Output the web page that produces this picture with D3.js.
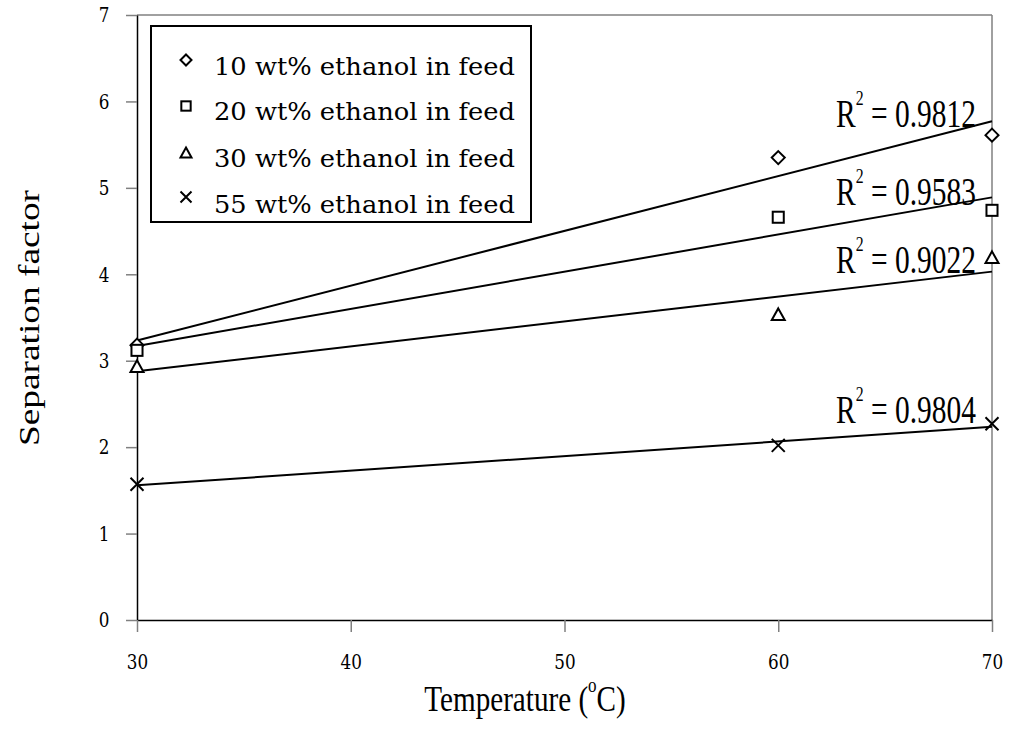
<!DOCTYPE html>
<html>
<head>
<meta charset="utf-8">
<script src="https://cdn.jsdelivr.net/npm/d3@7"></script>
<style>
  html, body { margin: 0; padding: 0; background: #fff; }
  svg { display: block; }
</style>
</head>
<body>
<svg id="chart" width="1013" height="754"></svg>
<script>
// ---- data ----
const temperatures = [30, 60, 70];
const series10 = [3.18, 5.35, 5.61];
const series20 = [3.12, 4.66, 4.74];
const series30 = [2.93, 3.53, 4.19];
const series55 = [1.57, 2.02, 2.27];
const seriesNames = [
  "10 wt% ethanol in feed",
  "20 wt% ethanol in feed",
  "30 wt% ethanol in feed",
  "55 wt% ethanol in feed"
];
const markerTypes = ["diamond", "square", "triangle", "cross"];
const r2Labels = ["0.9812", "0.9583", "0.9022", "0.9804"];
const xTicks = [30, 40, 50, 60, 70];
const yTicks = [0, 1, 2, 3, 4, 5, 6, 7];

const allSeries = [series10, series20, series30, series55];

// ---- layout ----
const svg = d3.select("#chart");
const plot = { left: 137, right: 992, top: 15, bottom: 620 };
const x = d3.scaleLinear().domain([30, 70]).range([plot.left, plot.right]);
const y = d3.scaleLinear().domain([0, 7]).range([plot.bottom, plot.top]);

const tickFont = "'DejaVu Serif', serif";
const titleFont = "'Liberation Serif', 'Times New Roman', serif";
const squeeze = 0.82; // the original chart is horizontally compressed
const tickSqueeze = 0.8;

// frame (top & right) in gray
svg.append("line").attr("x1", plot.left).attr("x2", plot.right)
  .attr("y1", plot.top).attr("y2", plot.top)
  .attr("stroke", "#808080").attr("stroke-width", 1.5);
svg.append("line").attr("x1", plot.right).attr("x2", plot.right)
  .attr("y1", plot.top).attr("y2", plot.bottom)
  .attr("stroke", "#808080").attr("stroke-width", 1.5);

// y axis
const yAxis = svg.append("g")
  .attr("transform", `translate(${plot.left},0)`)
  .call(d3.axisLeft(y).tickValues(yTicks).tickSize(11).tickSizeOuter(0).tickPadding(0).tickFormat(d3.format("d")));
yAxis.select(".domain").attr("stroke", "#000").attr("stroke-width", 1.5);
yAxis.selectAll(".tick line").attr("stroke", "#808080").attr("stroke-width", 1.5);
yAxis.selectAll(".tick text")
  .attr("x", null)
  .attr("text-anchor", "middle")
  .attr("transform", `translate(-33,0) scale(${tickSqueeze},1)`)
  .attr("font-family", tickFont).attr("font-size", 21).attr("fill", "#000");

// x axis
const xAxis = svg.append("g")
  .attr("transform", `translate(0,${plot.bottom})`)
  .call(d3.axisBottom(x).tickValues(xTicks).tickSize(12).tickSizeOuter(0).tickPadding(0).tickFormat(d3.format("d")));
xAxis.select(".domain").attr("stroke", "#000").attr("stroke-width", 1.5);
xAxis.selectAll(".tick line").attr("stroke", "#808080").attr("stroke-width", 1.5);
xAxis.selectAll(".tick text")
  .attr("y", null).attr("dy", "0.35em")
  .attr("transform", `translate(0,42) scale(${tickSqueeze},1)`)
  .attr("font-family", tickFont).attr("font-size", 21).attr("fill", "#000");

// axis titles
const xTitle = svg.append("text")
  .attr("transform", `translate(525,711) scale(0.81,1)`)
  .attr("text-anchor", "middle")
  .attr("font-family", titleFont).attr("font-size", 36).attr("fill", "#000");
xTitle.append("tspan").text("Temperature (");
xTitle.append("tspan").attr("font-size", 21).attr("dy", -19).text("o");
xTitle.append("tspan").attr("dy", 19).text("C)");

svg.append("text")
  .attr("transform", `translate(39,318) scale(${squeeze},1) rotate(-90)`)
  .attr("text-anchor", "middle")
  .attr("font-family", titleFont).attr("font-size", 37).attr("fill", "#000")
  .attr("textLength", 256).attr("lengthAdjust", "spacingAndGlyphs")
  .text("Separation factor");

// ---- trend lines (least squares through each series) ----
function fit(xs, ys) {
  const mx = d3.mean(xs), my = d3.mean(ys);
  let sxy = 0, sxx = 0;
  xs.forEach((v, i) => { sxy += (v - mx) * (ys[i] - my); sxx += (v - mx) * (v - mx); });
  const b = sxy / sxx;
  return t => my + b * (t - mx);
}
const xDomain = d3.extent(temperatures);
allSeries.forEach(s => {
  const f = fit(temperatures, s);
  svg.append("path")
    .attr("d", d3.line().x(d => x(d)).y(d => y(f(d)))(xDomain))
    .attr("fill", "none").attr("stroke", "#000").attr("stroke-width", 2);
});

// ---- markers ----
function marker(g, type, cx, cy, s) {
  if (type === "diamond") {
    g.append("path").attr("d", `M${cx},${cy - s}L${cx + s},${cy}L${cx},${cy + s}L${cx - s},${cy}Z`)
      .attr("fill", "#fff").attr("stroke", "#000").attr("stroke-width", 2);
  } else if (type === "square") {
    g.append("rect").attr("x", cx - s * 0.85).attr("y", cy - s * 0.85)
      .attr("width", s * 1.7).attr("height", s * 1.7)
      .attr("fill", "#fff").attr("stroke", "#000").attr("stroke-width", 2);
  } else if (type === "triangle") {
    g.append("path").attr("d", `M${cx},${cy - s}L${cx + s},${cy + s * 0.8}L${cx - s},${cy + s * 0.8}Z`)
      .attr("fill", "#fff").attr("stroke", "#000").attr("stroke-width", 2);
  } else {
    g.append("path").attr("d", `M${cx - s},${cy - s}L${cx + s},${cy + s}M${cx - s},${cy + s}L${cx + s},${cy - s}`)
      .attr("fill", "none").attr("stroke", "#000").attr("stroke-width", 2);
  }
}
const markG = svg.append("g");
allSeries.forEach((s, si) => {
  s.forEach((v, i) => marker(markG, markerTypes[si], x(temperatures[i]), y(v), 6.5));
});

// ---- R² labels ----
const r2Base = [127, 205, 273, 423];
r2Labels.forEach((lab, i) => {
  const t = svg.append("text")
    .attr("font-family", titleFont).attr("font-size", 41).attr("fill", "#000");
  t.append("tspan").text("R");
  t.append("tspan").attr("font-size", 22).attr("dy", -22).text("2");
  t.append("tspan").attr("dy", 22).text(" = " + lab);
  const w = t.node().getComputedTextLength();
  t.attr("transform", `translate(836,${r2Base[i]}) scale(${140 / w},1)`);
});

// ---- legend ----
const leg = svg.append("g");
leg.append("rect").attr("x", 151).attr("y", 26).attr("width", 380).attr("height", 196)
  .attr("fill", "#fff").attr("stroke", "#000").attr("stroke-width", 2);
const legMarkY = [60, 106, 153, 197];
const legTextY = [75, 120, 167, 213];
seriesNames.forEach((n, i) => {
  marker(leg, markerTypes[i], 186, legMarkY[i], 5.5);
  leg.append("text").attr("x", 214).attr("y", legTextY[i])
    .attr("font-family", tickFont).attr("font-size", 24).attr("fill", "#000")
    .attr("textLength", 301).attr("lengthAdjust", "spacingAndGlyphs")
    .text(n);
});
</script>
</body>
</html>
